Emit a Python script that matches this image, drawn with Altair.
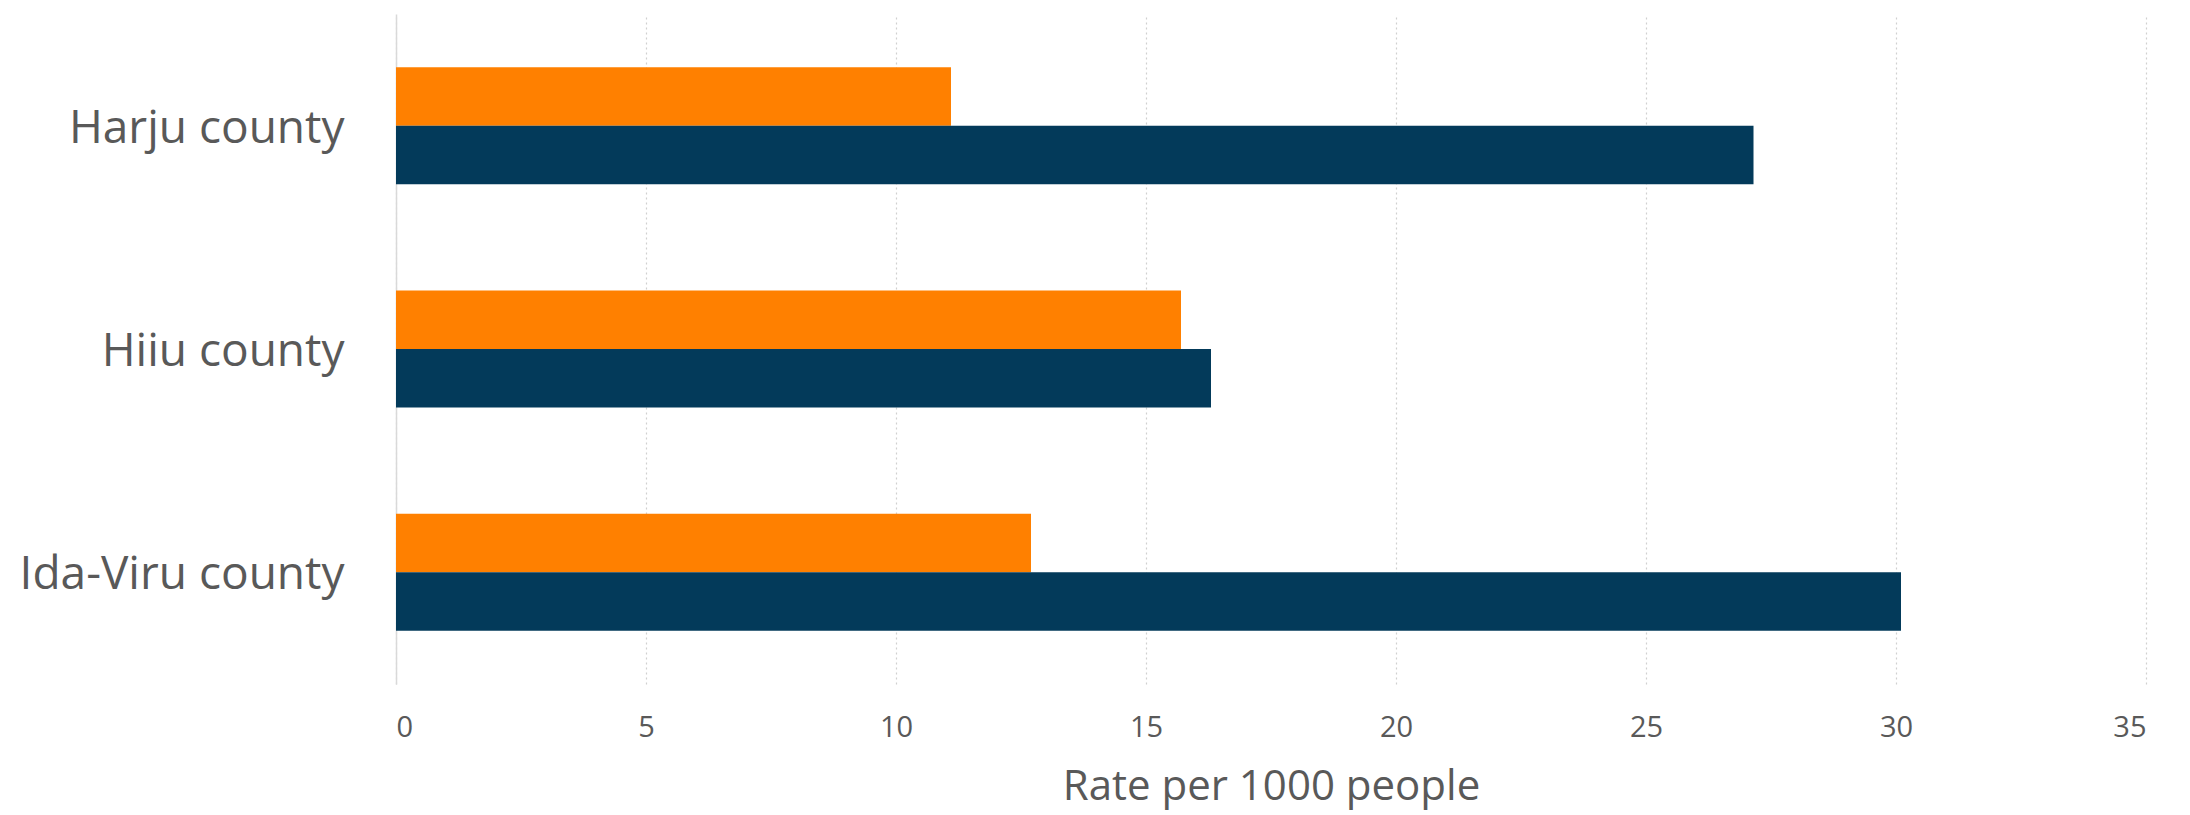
import altair as alt
import pandas as pd

counties = ["Harju county", "Hiiu county", "Ida-Viru county"]
series_names = ["Series 1", "Series 2"]
series1_values = [11.1, 15.7, 12.7]   # orange (top bar)
series2_values = [27.15, 16.3, 30.1]  # dark blue (bottom bar)
x_ticks = [0, 5, 10, 15, 20, 25, 30, 35]
colors = ["#FF8000", "#033A5A"]

rows = []
for i, c in enumerate(counties):
    rows.append({"county": c, "series": series_names[0], "value": series1_values[i]})
    rows.append({"county": c, "series": series_names[1], "value": series2_values[i]})
df = pd.DataFrame(rows)

FONT = "Open Sans"
GREY = "#595959"

chart = alt.Chart(df).mark_bar(strokeWidth=0).encode(
    y=alt.Y("county:N", sort=counties, title=None,
            scale=alt.Scale(paddingInner=0.476, paddingOuter=0.238),
            axis=alt.Axis(labelFont=FONT, labelFontSize=46, labelColor=GREY, labelLimit=1000,
                          labelPadding=52, labelOffset=3, ticks=False, domain=True,
                          domainColor="#d9d9d9", domainWidth=1.5, grid=False)),
    yOffset=alt.YOffset("series:N", sort=series_names, scale=alt.Scale(paddingInner=0, paddingOuter=0)),
    x=alt.X("value:Q", title="Rate per 1000 people",
            scale=alt.Scale(domain=[0, 35], nice=False),
            axis=alt.Axis(values=x_ticks, labelFont=FONT, labelFontSize=29,
                          labelColor=GREY, labelPadding=29, ticks=False, domain=False,
                          grid=True, gridColor="#d0d0d0", gridDash=[2, 3], gridWidth=1.2,
                          titleFont=FONT, titleFontSize=42, titleFontWeight="normal",
                          titleColor=GREY, titlePadding=24)),
    color=alt.Color("series:N", sort=series_names,
                    scale=alt.Scale(domain=series_names, range=colors), legend=None),
).properties(
    width=1750, height=670,
    autosize=alt.AutoSizeParams(type="none"),
    padding={"left": 388, "top": 6, "right": 30, "bottom": 130},
).configure_view(stroke=None)

chart.save("out.html", embed_options={"renderer": "svg", "actions": False})
